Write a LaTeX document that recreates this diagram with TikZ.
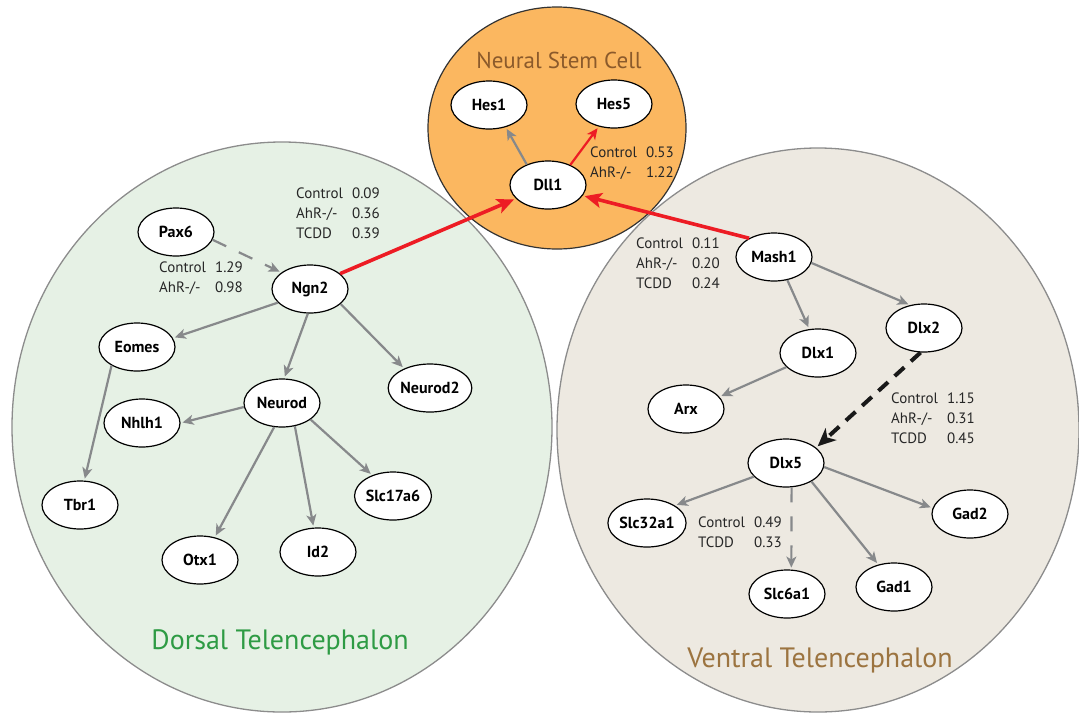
\documentclass[tikz,border=0pt]{standalone}
\usepackage{fontspec}
\setmainfont{PT Sans}
\usetikzlibrary{arrows.meta,shapes.geometric}
\definecolor{edgegray}{HTML}{87898B}
\definecolor{hotred}{HTML}{ED1C24}
\definecolor{nscfill}{HTML}{FBB760}
\definecolor{dorsfill}{HTML}{E6F1E5}
\definecolor{ventfill}{HTML}{EDE9E1}
\definecolor{nsctext}{HTML}{8B5A2B}
\definecolor{dorstext}{HTML}{2E9B44}
\definecolor{venttext}{HTML}{9C7440}
\definecolor{ringgray}{HTML}{8C8C8C}
\tikzset{
  gene/.style={ellipse, draw=black, line width=1.2pt, fill=white,
    minimum width=76pt, minimum height=48pt, inner sep=0pt,
    font=\fontsize{16}{18}\selectfont\bfseries},
  vals/.style={anchor=base west, inner sep=0pt,
    font=\fontsize{15}{20}\selectfont, text=black!85},
  region/.style={font=\fontsize{#1}{#1}\selectfont, anchor=base, inner sep=0pt},
  garrow/.style={draw=edgegray, line width=2.2pt,
    -{Stealth[length=11pt,width=10pt,inset=3pt]}, shorten >=2pt},
  gdash/.style={garrow, dash pattern=on 15pt off 14pt},
  rarrow/.style={draw=hotred, line width=3.6pt,
    -{Stealth[length=17pt,width=15pt,inset=4pt]}, shorten >=2pt},
  rthin/.style={draw=hotred, line width=2.2pt,
    -{Stealth[length=11pt,width=10pt,inset=3pt]}, shorten >=2pt},
  kdash/.style={draw=black!90, line width=4pt, dash pattern=on 13pt off 9pt,
    -{Stealth[length=18pt,width=16pt,inset=5pt]}, shorten >=2pt},
}
\begin{document}
\begin{tikzpicture}[x=1pt, y=-1pt]
\useasboundingbox (0,0) rectangle (1079,713);
% regions
\draw[ringgray, line width=1.3pt, fill=dorsfill] (282,427) ellipse [x radius=270pt, y radius=285pt];
\draw[ringgray, line width=1.3pt, fill=ventfill] (818,430) ellipse [x radius=261pt, y radius=282pt];
\draw[black!80, line width=1.2pt, fill=nscfill] (557,128) ellipse [x radius=129pt, y radius=121pt];
\node[region=23, text=nsctext] (nsclab) at (559,68) {Neural Stem Cell};
\node[region=28, text=dorstext] (dorslab) at (280,649) {Dorsal Telencephalon};
\node[region=28, text=venttext] (ventlab) at (820,667) {Ventral Telencephalon};
% genes
\node[gene] (Hes1) at (489,105) {Hes1};
\node[gene] (Hes5) at (614,104) {Hes5};
\node[gene] (Dll1) at (548,185) {Dll1};
\node[gene] (Pax6) at (176,232) {Pax6};
\node[gene] (Ngn2) at (310,289) {Ngn2};
\node[gene] (Eomes) at (137,347) {Eomes};
\node[gene] (Neurod2) at (430,388) {Neurod2};
\node[gene] (Neurod) at (282,403) {Neurod};
\node[gene] (Nhlh1) at (142,423) {Nhlh1};
\node[gene] (Tbr1) at (80,505) {Tbr1};
\node[gene] (Slc17a6) at (393,496) {Slc17a6};
\node[gene] (Otx1) at (200,560) {Otx1};
\node[gene] (Id2) at (318,552) {Id2};
\node[gene] (Mash1) at (774,257) {Mash1};
\node[gene] (Dlx2) at (924,328) {Dlx2};
\node[gene] (Dlx1) at (818,353) {Dlx1};
\node[gene] (Arx) at (686,409) {Arx};
\node[gene] (Dlx5) at (786,463) {Dlx5};
\node[gene] (Slc32a1) at (647,523) {Slc32a1};
\node[gene] (Gad2) at (970,514) {Gad2};
\node[gene] (Slc6a1) at (787,594) {Slc6a1};
\node[gene] (Gad1) at (894,587) {Gad1};
% value labels
\node[vals] (vHes5) at (590,157) {\begin{tabular}[t]{@{}l@{\hspace{9pt}}r@{}}Control&0.53\\AhR-/-&1.22\end{tabular}};
\node[vals] (vPax6) at (159,272) {\begin{tabular}[t]{@{}l@{\hspace{9pt}}r@{}}Control&1.29\\AhR-/-&0.98\end{tabular}};
\node[vals] (vNgn2) at (296,198) {\begin{tabular}[t]{@{}l@{\hspace{9pt}}r@{}}Control&0.09\\AhR-/-&0.36\\TCDD&0.39\end{tabular}};
\node[vals] (vMash1) at (636,248) {\begin{tabular}[t]{@{}l@{\hspace{9pt}}r@{}}Control&0.11\\AhR-/-&0.20\\TCDD&0.24\end{tabular}};
\node[vals] (vDlx2) at (891,403) {\begin{tabular}[t]{@{}l@{\hspace{9pt}}r@{}}Control&1.15\\AhR-/-&0.31\\TCDD&0.45\end{tabular}};
\node[vals] (vDlx5) at (698,527) {\begin{tabular}[t]{@{}l@{\hspace{9pt}}r@{}}Control&0.49\\TCDD&0.33\end{tabular}};
% edges
\draw[garrow] (Dll1.136) -- (Hes1.-53);
\draw[rthin] (Dll1.42) -- (Hes5.236);
\draw[rarrow] (Ngn2.27) -- (Dll1.203);
\draw[rarrow] (Mash1.143) -- (Dll1.-17);
\draw[gdash] (Pax6.-12) -- (Ngn2.150);
\draw[garrow] (Ngn2.203) -- (Eomes.14);
\draw[garrow] (Ngn2.-95) -- (Neurod.85);
\draw[garrow] (Ngn2.-26) -- (Neurod2.143);
\draw[garrow] (Eomes.216) -- (Tbr1.80);
\draw[garrow] (Neurod.186) -- (Nhlh1.0);
\draw[garrow] (Neurod.252) -- (Otx1.57);
\draw[garrow] (Neurod.-61) -- (Id2.100);
\draw[garrow] (Neurod.-30) -- (Slc17a6.135);
\draw[garrow] (Mash1.-60) -- (Dlx1.110);
\draw[garrow] (Mash1.-9) -- (Dlx2.121);
\draw[garrow] (Dlx1.204) -- (Arx.20);
\draw[kdash] (Dlx2.262) -- (Dlx5.27);
\draw[garrow] (Dlx5.203) -- (Slc32a1.32);
\draw[gdash] (Dlx5.-77) -- (Slc6a1.80);
\draw[garrow] (Dlx5.-36) -- (Gad1.125);
\draw[garrow] (Dlx5.-6) -- (Gad2.171);
\end{tikzpicture}
\end{document}
